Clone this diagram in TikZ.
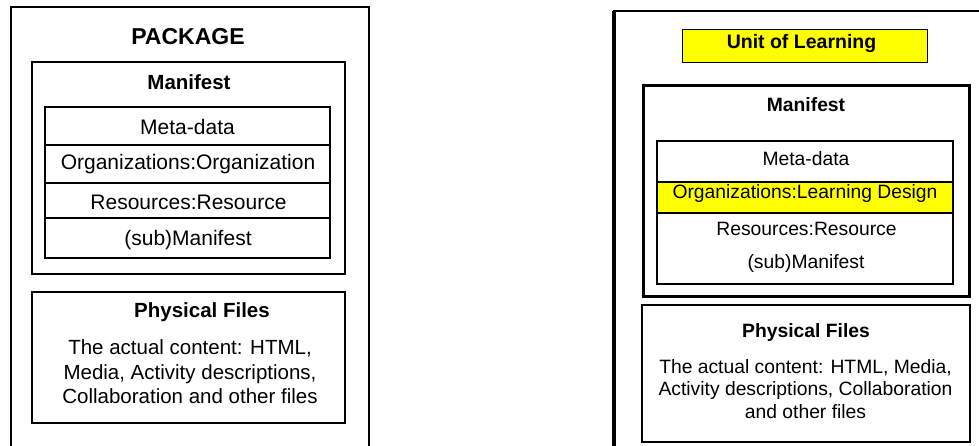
\documentclass[tikz,border=0pt]{standalone}
\usepackage{fontspec}
\setmainfont{Liberation Sans}
\definecolor{ylw}{RGB}{255,255,0}
\begin{document}
\begin{tikzpicture}[x=1pt,y=-1pt,
  box/.style={draw=black, inner sep=0pt, outer sep=0pt},
  ttl/.style={font=\bfseries\fontsize{#1}{#1}\selectfont, inner sep=0pt},
  txt/.style={font=\fontsize{#1}{#1}\selectfont, inner sep=0pt},
  body/.style 2 args={font=\fontsize{#1}{#2}\selectfont, inner sep=0pt, align=center}]
\useasboundingbox (0,0) rectangle (979,446);
\begin{scope}
\clip (0,0) rectangle (979,446);
\node[box, line width=2pt, minimum width=358pt, minimum height=470pt, anchor=north west] (pkg) at (11,7) {};
\node[box, line width=2.2pt, minimum width=400pt, minimum height=470pt, anchor=north west] (uol) at (614,11) {};
\draw[line width=4pt] (uol.north west) -- (uol.south west);
\end{scope}
% ---------- left: PACKAGE ----------
\node[ttl=23] (pkgt) at (188,37) {PACKAGE};
\node[box, line width=2.5pt, minimum width=313pt, minimum height=212pt] (man1) at (188.5,168) {};
\node[ttl=20.5] (man1t) at (189,82) {Manifest};
\node[box, line width=1.3pt, minimum width=285pt, minimum height=38pt] (meta1) at (187.5,126) {};
\node[box, line width=1.3pt, minimum width=285pt, minimum height=38pt] (org1) at (187.5,164) {};
\node[box, line width=1.3pt, minimum width=285pt, minimum height=35pt] (res1) at (187.5,200.5) {};
\node[box, line width=1.3pt, minimum width=285pt, minimum height=40pt] (sub1) at (187.5,238) {};
\node[box, line width=2pt, minimum width=285pt, minimum height=151pt] (tab1) at (187.5,182.5) {};
\node[txt=21] (meta1t) at (187.5,127) {Meta-data};
\node[txt=21] (org1t) at (188,164) {Organizations:Organization};
\node[txt=21] (res1t) at (188.5,202) {Resources:Resource};
\node[txt=21] (sub1t) at (188,240) {(sub)Manifest};
\node[box, line width=2pt, minimum width=313pt, minimum height=131pt] (phys1) at (188.5,357.5) {};
\node[ttl=20.5] (phys1t) at (202,312) {Physical Files};
\node[body={20.5}{24.5}] (phys1b) at (190,372) {The actual content: HTML,\\Media, Activity descriptions,\\Collaboration and other files};
% ---------- right: Unit of Learning ----------
\node[box, line width=1pt, fill=ylw, minimum width=245pt, minimum height=33pt] (uolb) at (804.5,46.5) {};
\node[ttl=19.5] (uolt) at (801.5,44) {Unit of Learning};
\node[box, line width=3pt, minimum width=326pt, minimum height=210pt] (man2) at (806,191) {};
\node[ttl=19.3] (man2t) at (806,105) {Manifest};
\node[box, line width=1.3pt, minimum width=296pt, minimum height=41pt] (meta2) at (805,161.5) {};
\node[box, line width=1.3pt, fill=ylw, minimum width=296pt, minimum height=31pt] (org2) at (805,197.5) {};
\node[box, line width=1.3pt, minimum width=296pt, minimum height=71pt] (low2) at (805,248.5) {};
\node[box, line width=2pt, minimum width=296pt, minimum height=143pt] (tab2) at (805,212.5) {};
\node[txt=19.3] (meta2t) at (806,159) {Meta-data};
\node[txt=19.3] (org2t) at (805,194) {Organizations:Learning Design};
\node[txt=19.3] (res2t) at (806.5,229) {Resources:Resource};
\node[txt=19.3] (sub2t) at (806,264) {(sub)Manifest};
\node[box, line width=2pt, minimum width=328pt, minimum height=137pt] (phys2) at (806,373.5) {};
\node[ttl=19.3] (phys2t) at (806,333) {Physical Files};
\node[body={19.3}{22.5}] (phys2b) at (805.5,389) {The actual content: HTML, Media,\\Activity descriptions, Collaboration\\and other files};
\end{tikzpicture}
\end{document}
